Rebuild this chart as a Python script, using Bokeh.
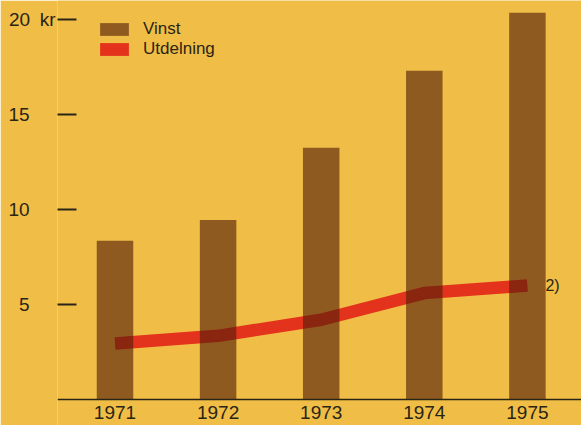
from bokeh.plotting import figure
from bokeh.models import Range1d, FixedTicker, LinearAxis, Label, Legend, LegendItem
from bokeh.embed import file_html
from bokeh.resources import INLINE

# ---- data ----
years = [1971, 1972, 1973, 1974, 1975]
vinst = [8.35, 9.45, 13.25, 17.3, 20.35]
utdelning = [2.95, 3.35, 4.2, 5.6, 6.0]
y_ticks = [5, 10, 15, 20]
PAD = "\u2007\u2007\u2005"
y_tick_labels = {5: "5" + PAD, 10: "10" + PAD, 15: "15" + PAD, 20: "20\u2002kr"}
x_tick_labels = {y: str(y) for y in years}

BG = "#F0BE46"
RED = "#E4331C"
BAR = (83, 29, 8)
INK = "#2A2416"
FONT = "Liberation Sans"

p = figure(width=581, height=425, output_backend="svg", toolbar_location=None,
           x_range=Range1d(1970.4423, 1975.5247), y_range=Range1d(-1.368, 21.0),
           x_axis_location=None, y_axis_location=None,
           min_border_left=57, min_border_right=0, min_border_top=0, min_border_bottom=0)
p.background_fill_color = BG
p.border_fill_color = BG
p.outline_line_color = None
p.xgrid.visible = False
p.ygrid.visible = False

# line below, bars over it (semi-transparent to darken the overlap)
p.line(years, utdelning, line_width=12.5, line_color=RED, line_cap="butt",
       line_join="round", level="underlay")
bars = p.vbar(x=years, top=vinst, bottom=0, width=0.354,
              fill_color=BAR, fill_alpha=0.62, line_color=None)
proxy = p.vbar(x=years, top=utdelning, width=0.3, fill_color=RED, line_color=None,
               visible=False)

yaxis = LinearAxis(ticker=FixedTicker(ticks=y_ticks), major_label_overrides=y_tick_labels,
                   axis_line_color=None, major_tick_in=19, major_tick_out=0,
                   major_tick_line_width=1.8, major_tick_line_color=INK,
                   minor_tick_line_color=None, major_label_standoff=2,
                   major_label_text_font=FONT, major_label_text_font_size="19px",
                   major_label_text_color=INK)
p.add_layout(yaxis, "left")

xaxis = LinearAxis(ticker=FixedTicker(ticks=years), major_label_overrides=x_tick_labels,
                   fixed_location=0, axis_line_color=INK, axis_line_width=1.5,
                   major_tick_in=0, major_tick_out=0, minor_tick_line_color=None,
                   major_label_standoff=6, major_label_text_font=FONT,
                   major_label_text_font_size="19px", major_label_text_color=INK)
p.add_layout(xaxis, "below")

p.add_layout(Label(x=1975, y=utdelning[-1], x_offset=18, text="2)", text_baseline="middle",
                   text_font=FONT, text_font_size="16px", text_color=INK))

legend = Legend(items=[LegendItem(label="Vinst", renderers=[bars]),
                       LegendItem(label="Utdelning", renderers=[proxy])],
                location=(39, 366), glyph_width=36, glyph_height=16, label_height=16,
                label_standoff=11, spacing=0, padding=0, margin=0,
                border_line_color=None, background_fill_alpha=0,
                label_text_font=FONT, label_text_font_size="17px", label_text_color=INK)
p.add_layout(legend)

html = file_html(p, INLINE).replace("<body>", '<body style="background-color:%s">' % BG, 1)
open("out.html", "w").write(html)
